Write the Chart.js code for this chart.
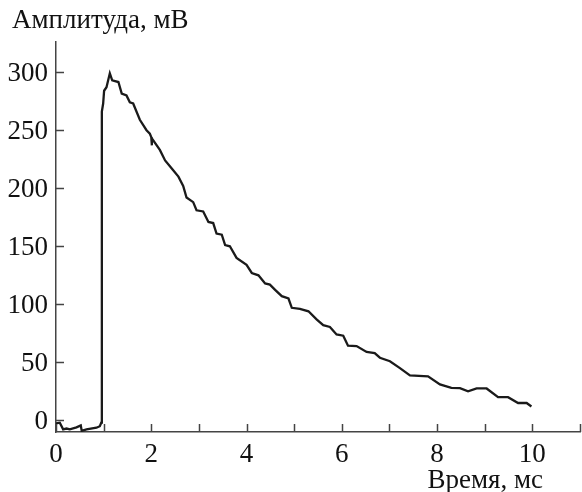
<!DOCTYPE html>
<html>
<head>
<meta charset="utf-8">
<script src="https://cdn.jsdelivr.net/npm/chart.js@4"></script>
<style>
  html, body { margin: 0; padding: 0; background: #fff; }
  #wrap { width: 582px; height: 492px; }
</style>
</head>
<body>
<div id="wrap"><canvas id="ampChart" width="582" height="492"></canvas></div>
<script>
// time, ms
const timeMs = [
  0, 0.08, 0.15, 0.22, 0.29, 0.43, 0.52, 0.54, 0.64, 0.85, 0.92, 0.95,
  0.96, 0.965, 0.99, 1.01, 1.06, 1.13, 1.18, 1.31, 1.38, 1.48, 1.55, 1.62,
  1.76, 1.9, 1.97, 2.0, 2.01, 2.015, 2.18, 2.29, 2.43, 2.57, 2.67, 2.74,
  2.88, 2.95, 3.09, 3.2, 3.3, 3.37, 3.48, 3.55, 3.65, 3.79, 4.0, 4.11,
  4.25, 4.39, 4.49, 4.6, 4.74, 4.88, 4.95, 5.12, 5.3, 5.47, 5.61, 5.75,
  5.89, 6.03, 6.13, 6.31, 6.52, 6.69, 6.8, 7.01, 7.22, 7.43, 7.81, 8.06,
  8.3, 8.48, 8.65, 8.83, 9.04, 9.28, 9.49, 9.7, 9.88, 9.98
];
// amplitude, mV
const amplitude = [
  -2.6, -2, -7.7, -7, -7.7, -6, -4.3, -9, -7.7, -6.3, -5, -2,
  100, 266, 273, 284, 287, 299, 293, 291.5, 281.5, 280, 274, 273,
  259, 250, 247, 244, 237, 243, 233, 224, 217, 210, 202, 192,
  188, 181, 180, 171, 170, 161, 160, 151, 150, 140, 134, 127,
  125, 118, 117, 112.5, 107, 105, 97, 96, 94, 87, 82, 80.5,
  74, 73, 64.4, 64, 59, 58, 54, 51, 45, 38.7, 38, 31,
  28, 27.8, 25, 27.5, 27.5, 20, 20, 15, 15, 12
];
const xTicks = [0, 1, 2, 3, 4, 5, 6, 7, 8, 9, 10, 11];
const xLabels = ['0', '', '2', '', '4', '', '6', '', '8', '', '10', ''];
const yTicks = [0, 50, 100, 150, 200, 250, 300];

const axisColor = '#444';
const textColor = '#111';
const fontFamily = '"Liberation Serif", "DejaVu Serif", serif';

// inward tick marks, tick labels and the two axis captions
const axisExtras = {
  id: 'axisExtras',
  afterDraw(chart) {
    const c = chart.ctx;
    const xs = chart.scales.x, ys = chart.scales.y;
    const area = chart.chartArea;
    c.save();
    c.strokeStyle = axisColor;
    c.lineWidth = 1.5;
    c.beginPath();
    yTicks.forEach(v => {
      const py = Math.round(ys.getPixelForValue(v)) + 0.5;
      c.moveTo(area.left, py);
      c.lineTo(area.left + 8, py);
    });
    xTicks.forEach(v => {
      const px = Math.round(xs.getPixelForValue(v)) + 0.5;
      c.moveTo(px, area.bottom);
      c.lineTo(px, area.bottom - 8);
    });
    c.stroke();

    c.fillStyle = textColor;
    c.font = '27px ' + fontFamily;
    c.textBaseline = 'alphabetic';
    c.textAlign = 'right';
    yTicks.forEach(v => {
      c.fillText(String(v), area.left - 8, ys.getPixelForValue(v) + 9);
    });
    c.textAlign = 'center';
    xTicks.forEach((v, i) => {
      if (xLabels[i]) c.fillText(xLabels[i], xs.getPixelForValue(v), 462);
    });
    c.textAlign = 'left';
    c.fillText('Амплитуда, мВ', 12, 28);
    c.textAlign = 'right';
    c.fillText('Время, мс', 543, 488);
    c.restore();
  }
};

const ctx = document.getElementById('ampChart').getContext('2d');

new Chart(ctx, {
  type: 'line',
  data: {
    datasets: [{
      data: timeMs.map((t, i) => ({ x: t, y: amplitude[i] })),
      borderColor: '#1a1a1a',
      borderWidth: 2.3,
      pointRadius: 0,
      tension: 0,
      fill: false
    }]
  },
  options: {
    responsive: false,
    animation: false,
    layout: { padding: { top: 42, right: 2, left: 0, bottom: 0 } },
    plugins: {
      legend: { display: false },
      tooltip: { enabled: false }
    },
    scales: {
      x: {
        type: 'linear',
        min: 0,
        max: 11,
        grid: { display: false, drawTicks: false },
        border: { display: true, color: axisColor, width: 1.5 },
        afterBuildTicks: scale => { scale.ticks = xTicks.map(v => ({ value: v })); },
        afterFit: scale => { scale.height = 60; },
        ticks: { display: false }
      },
      y: {
        type: 'linear',
        min: -10,
        max: 326,
        grid: { display: false, drawTicks: false },
        border: { display: true, color: axisColor, width: 1.5 },
        afterBuildTicks: scale => { scale.ticks = yTicks.map(v => ({ value: v })); },
        afterFit: scale => { scale.width = 56; },
        ticks: { display: false }
      }
    }
  },
  plugins: [axisExtras]
});
</script>
</body>
</html>
